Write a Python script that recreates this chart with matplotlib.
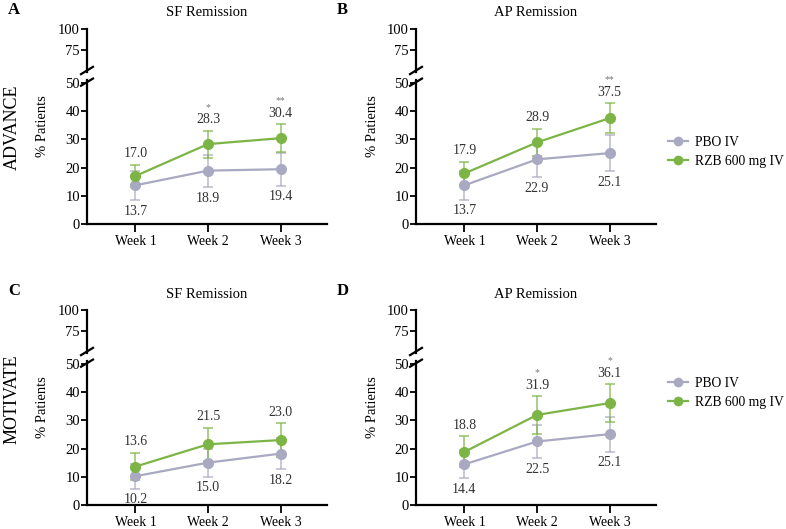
import matplotlib
matplotlib.use('Agg')
import matplotlib.pyplot as plt
from matplotlib.lines import Line2D

## data ##

weeks = ['Week 1', 'Week 2', 'Week 3']
series_names = ['PBO IV', 'RZB 600 mg IV']
panel_letters = ['A', 'B', 'C', 'D']
panel_titles = ['SF Remission', 'AP Remission', 'SF Remission', 'AP Remission']
study_names = ['ADVANCE', 'MOTIVATE']

pbo_vals = [[13.7, 18.9, 19.4], [13.7, 22.9, 25.1], [10.2, 15.0, 18.2], [14.4, 22.5, 25.1]]
pbo_lo = [[8.5, 13.0, 13.6], [8.6, 16.5, 18.8], [5.8, 10.0, 12.6], [9.4, 16.5, 18.9]]
pbo_hi = [[18.8, 24.6, 25.3], [18.8, 29.2, 31.5], [14.6, 20.0, 23.6], [19.4, 28.5, 31.3]]

rzb_vals = [[17.0, 28.3, 30.4], [17.9, 28.9, 37.5], [13.6, 21.5, 23.0], [18.8, 31.9, 36.1]]
rzb_lo = [[13.0, 23.5, 25.5], [13.8, 24.0, 32.2], [8.8, 15.7, 17.0], [13.3, 25.3, 29.3]]
rzb_hi = [[21.0, 33.0, 35.3], [22.0, 33.7, 42.8], [18.5, 27.3, 29.0], [24.3, 38.5, 42.8]]

stars = [['', '*', '**'], ['', '', '**'], ['', '', ''], ['', '*', '*']]

## style ##

plt.rcParams['font.family'] = ['Liberation Serif', 'DejaVu Serif']
c_pbo = '#a9a9c2'
c_rzb = '#7cb545'
W, H = 786, 529

fig = plt.figure(figsize=(7.86, 5.29), dpi=100)


def rect(x0, x1, ytop, ybot):
    # pixel box -> figure fraction
    return [x0 / W, 1 - ybot / H, (x1 - x0) / W, (ybot - ytop) / H]


# panel origins in pixels (x of y-axis, vertical offset)
origins = [(87, 0), (416, 0), (87, 281), (416, 281)]
x_lim = (1 - 48 / 72, 1 + 190 / 72)

for i, (x0, dy) in enumerate(origins):
    x1 = x0 + 240
    ax_top = fig.add_axes(rect(x0, x1, 29 + dy, 72 + dy))
    ax = fig.add_axes(rect(x0, x1, 80 + dy, 224 + dy))

    ax_top.set_ylim(49, 100)
    ax_top.set_yticks([75, 100])
    ax.set_ylim(0, 51)
    ax.set_yticks([0, 10, 20, 30, 40, 50])
    for a in (ax_top, ax):
        a.set_xlim(*x_lim)
        for s in ['top', 'right']:
            a.spines[s].set_visible(False)
        a.spines['left'].set_linewidth(1.6)
        a.tick_params(axis='y', direction='out', length=4, width=1.3, labelsize=10.5, pad=1)
    ax_top.spines['bottom'].set_visible(False)
    ax_top.set_xticks([])
    ax.spines['bottom'].set_linewidth(1.6)
    ax.set_xticks([1, 2, 3])
    ax.set_xticklabels(weeks)
    ax.tick_params(axis='x', direction='out', length=6, width=1.3, labelsize=10, pad=2)

    # break marks
    d = dict(color='black', lw=1.6, clip_on=False)
    ax_top.plot([-0.025, 0.025], [-0.05, 0.12], transform=ax_top.transAxes, **d)
    ax.plot([-0.025, 0.025], [0.96, 1.01], transform=ax.transAxes, **d)

    xs = [1, 2, 3]
    for vals, lo, hi, col in [(pbo_vals[i], pbo_lo[i], pbo_hi[i], c_pbo),
                              (rzb_vals[i], rzb_lo[i], rzb_hi[i], c_rzb)]:
        yerr = [[v - l for v, l in zip(vals, lo)], [h - v for v, h in zip(vals, hi)]]
        ax.errorbar(xs, vals, yerr=yerr, fmt='none', ecolor=col, alpha=0.75,
                    elinewidth=1.2, capsize=3.5, capthick=1.2, zorder=2)
        ax.plot(xs, vals, color=col, lw=1.6, marker='o', markersize=7, zorder=3)

    for x, v, l in zip(xs, pbo_vals[i], pbo_lo[i]):
        ax.annotate('%.1f' % v, (x, l), xytext=(0, -8), textcoords='offset points',
                    ha='center', va='center', fontsize=10, color='#333333')
    for x, v, h, s in zip(xs, rzb_vals[i], rzb_hi[i], stars[i]):
        ax.annotate('%.1f' % v, (x, h), xytext=(0, 8), textcoords='offset points',
                    ha='center', va='center', fontsize=10, color='#333333')
        if s:
            ax.annotate(s, (x, h), xytext=(0, 17), textcoords='offset points',
                        ha='center', va='center', fontsize=7, color='#777777')

    ax_top.set_title(panel_titles[i], fontsize=10.5, pad=9)
    fig.text((x0 - 79) / W, 1 - (10 + dy) / H, panel_letters[i], fontsize=12,
             fontweight='bold', ha='left', va='center')
    fig.text((x0 - 44) / W, 1 - (126 + dy) / H, '% Patients', rotation=90,
             fontsize=10.5, ha='center', va='center')

for j, name in enumerate(study_names):
    fig.text(12 / W, 1 - (127 + 272 * j) / H, name, rotation=90, fontsize=13,
             ha='center', va='center')

# legends
handles = [Line2D([], [], color=c_pbo, lw=1.6, marker='o', markersize=6),
           Line2D([], [], color=c_rzb, lw=1.6, marker='o', markersize=6)]
for yc in (152, 393):
    fig.legend(handles, series_names, loc='center left', frameon=False,
               bbox_to_anchor=(658 / W, 1 - yc / H), fontsize=9.8,
               handlelength=1.5, handletextpad=0.5, labelspacing=0.45,
               borderpad=0.2)

fig.savefig('out.png', dpi=100)
